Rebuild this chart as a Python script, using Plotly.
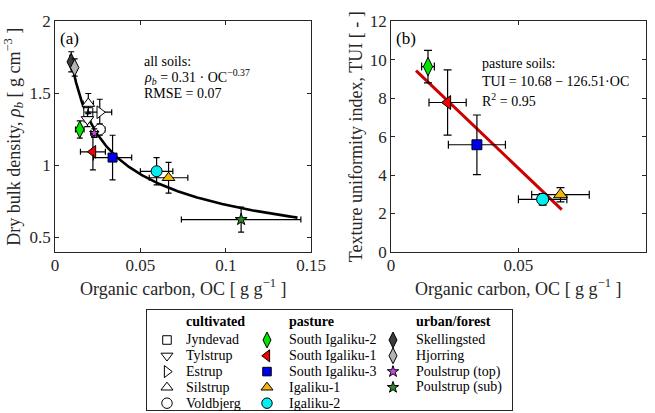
import numpy as np
import plotly.graph_objects as go

# ---------------- data ----------------
cultivated = ["Jyndevad", "Tylstrup", "Estrup", "Silstrup", "Voldbjerg"]
pasture = ["South Igaliku-2", "South Igaliku-1", "South Igaliku-3", "Igaliku-1", "Igaliku-2"]
urban_forest = ["Skellingsted", "Hjorring", "Poulstrup (top)", "Poulstrup (sub)"]
sites = cultivated + pasture + urban_forest

# organic carbon [g/g] and its spread
oc = [0.0195, 0.0190, 0.0262, 0.0195, 0.0262,
      0.0145, 0.0222, 0.0337, 0.0665, 0.0595,
      0.0095, 0.0115, 0.0230, 0.1090]
oc_err = [0.0020, 0.0020, 0.0070, 0.0030, 0.0030,
          0.0025, 0.0073, 0.0112, 0.0113, 0.0095,
          0.0010, 0.0012, 0.0020, 0.0350]
# dry bulk density [g/cm3] and its spread
rho = [1.37, 1.32, 1.37, 1.43, 1.25,
       1.25, 1.095, 1.055, 0.915, 0.96,
       1.72, 1.68, 1.225, 0.625]
rho_err = [0.03, 0.05, 0.09, 0.07, 0.04,
           0.06, 0.125, 0.155, 0.107, 0.095,
           0.07, 0.06, 0.03, 0.087]

# texture uniformity index for the pasture soils
tui = [9.65, 7.78, 5.58, 2.98, 2.74]
tui_err = [0.85, 1.70, 1.55, 0.37, 0.30]

# fitted relations
rho_coef, rho_exp = 0.31, -0.37
tui_icpt, tui_slope = 10.68, -126.51

# ---------------- styles ----------------
symbols = {
    "Jyndevad": "square", "Tylstrup": "triangle-down", "Estrup": "triangle-right",
    "Silstrup": "triangle-up", "Voldbjerg": "circle",
    "South Igaliku-2": "diamond-tall", "South Igaliku-1": "triangle-left",
    "South Igaliku-3": "square", "Igaliku-1": "triangle-up", "Igaliku-2": "circle",
    "Skellingsted": "diamond-tall", "Hjorring": "diamond-tall",
    "Poulstrup (top)": "star", "Poulstrup (sub)": "star",
}
colors = {
    "Jyndevad": "white", "Tylstrup": "white", "Estrup": "white",
    "Silstrup": "white", "Voldbjerg": "white",
    "South Igaliku-2": "#00e600", "South Igaliku-1": "#f00000",
    "South Igaliku-3": "#0000f0", "Igaliku-1": "#f2b705", "Igaliku-2": "#00f0f0",
    "Skellingsted": "#3c3c3c", "Hjorring": "#b4b4b4",
    "Poulstrup (top)": "#c84be6", "Poulstrup (sub)": "#2b8a2b",
}
sizes = {"square": 9, "triangle-down": 11, "triangle-right": 11, "triangle-up": 11,
         "triangle-left": 11, "circle": 11, "diamond-tall": 12, "star": 9}

FONT = "Liberation Serif, DejaVu Serif, serif"
INK = "#262626"

fig = go.Figure()


def marker(name, scale=1.0):
    sym = symbols[name]
    return dict(symbol=sym, size=sizes[sym] * scale, color=colors[name],
                line=dict(color="black", width=1))


def err(vals, width=3):
    return dict(type="data", array=vals, visible=True, color="black",
                thickness=1.2, width=width)


# ---- panel (a): bulk density vs organic carbon ----
oc_curve = np.linspace(0.009, 0.142, 200)
fig.add_trace(go.Scatter(x=oc_curve, y=rho_coef * oc_curve ** rho_exp, mode="lines",
                         line=dict(color="black", width=2.6), xaxis="x", yaxis="y",
                         showlegend=False, hoverinfo="skip"))
for i, name in enumerate(sites):
    fig.add_trace(go.Scatter(
        x=[oc[i]], y=[rho[i]], mode="markers", name=name, xaxis="x", yaxis="y",
        marker=marker(name, 0.8 if name == "Poulstrup (top)" else 1.0),
        error_x=err([oc_err[i]]), error_y=err([rho_err[i]]), showlegend=False))

# ---- panel (b): TUI vs organic carbon (pasture soils) ----
oc_line = np.array([0.0098, 0.0670])
fig.add_trace(go.Scatter(x=oc_line, y=tui_icpt + tui_slope * oc_line, mode="lines",
                         line=dict(color="#cc0000", width=3), xaxis="x2", yaxis="y2",
                         showlegend=False, hoverinfo="skip"))
for j, name in enumerate(pasture):
    i = sites.index(name)
    fig.add_trace(go.Scatter(
        x=[oc[i]], y=[tui[j]], mode="markers", name=name, xaxis="x2", yaxis="y2",
        marker=marker(name, 1.1),
        error_x=err([oc_err[i]], 4), error_y=err([tui_err[j]], 4), showlegend=False))

# ---- legend panel built on its own hidden axis ----
groups = [("cultivated", cultivated), ("pasture", pasture), ("urban/forest", urban_forest)]
col_marker_x = [167, 267, 393]
col_text_x = [184, 287, 414]
header_y, row0_y, row_gap = 322, 340, 15.8
annotations = []
for c, (title, names) in enumerate(groups):
    annotations.append(dict(text=f"<b>{title}</b>", x=col_text_x[c], y=header_y,
                            xref="x3", yref="y3", xanchor="left", yanchor="middle",
                            showarrow=False, font=dict(family=FONT, size=14, color="black")))
    ys = [row0_y + k * row_gap for k in range(len(names))]
    for k, name in enumerate(names):
        fig.add_trace(go.Scatter(x=[col_marker_x[c]], y=[ys[k]], mode="markers",
                                 marker=marker(name, 0.95), xaxis="x3", yaxis="y3",
                                 showlegend=False, hoverinfo="skip"))
        annotations.append(dict(text=name, x=col_text_x[c], y=ys[k], xref="x3", yref="y3",
                                xanchor="left", yanchor="middle", showarrow=False,
                                font=dict(family=FONT, size=14, color="black")))

# ---- panel labels, fit statements and x-axis titles ----
txt = dict(family=FONT, size=14, color="black")
xtitle_text = "Organic carbon, OC [ g g<sup>−1</sup> ]"
xtitle_font = dict(family=FONT, size=18, color=INK)
dom_a, dom_b = [0.084, 0.475], [0.597, 0.986]
annotations += [
    dict(text="(a)", x=0.002, y=1.885, xref="x", yref="y", xanchor="left",
         showarrow=False, font=dict(family=FONT, size=17, color="black")),
    dict(text="all soils:", x=0.051, y=1.72, xref="x", yref="y", xanchor="left",
         showarrow=False, font=txt),
    dict(text="<i>ρ<sub>b</sub></i> = 0.31 · OC<sup>−0.37</sup>", x=0.051, y=1.615,
         xref="x", yref="y", xanchor="left", showarrow=False, font=txt),
    dict(text="RMSE = 0.07", x=0.051, y=1.50, xref="x", yref="y", xanchor="left",
         showarrow=False, font=txt),
    dict(text="(b)", x=0.001, y=11.1, xref="x2", yref="y2", xanchor="left",
         showarrow=False, font=dict(family=FONT, size=17, color="black")),
    dict(text="pasture soils:", x=0.035, y=9.8, xref="x2", yref="y2", xanchor="left",
         showarrow=False, font=txt),
    dict(text="TUI = 10.68 − 126.51·OC", x=0.035, y=8.85, xref="x2", yref="y2",
         xanchor="left", showarrow=False, font=txt),
    dict(text="R<sup>2</sup> = 0.95", x=0.035, y=7.9, xref="x2", yref="y2",
         xanchor="left", showarrow=False, font=txt),
    dict(text=xtitle_text, x=sum(dom_a) / 2, y=0.305, xref="paper", yref="paper",
         xanchor="center", yanchor="middle", showarrow=False, font=xtitle_font),
    dict(text=xtitle_text, x=sum(dom_b) / 2, y=0.305, xref="paper", yref="paper",
         xanchor="center", yanchor="middle", showarrow=False, font=xtitle_font),
]

axis_common = dict(showgrid=False, zeroline=False, showline=True, mirror="ticks",
                   linecolor=INK, linewidth=0.8, ticks="inside", ticklen=4,
                   tickcolor=INK, tickfont=dict(family=FONT, size=17, color=INK),
                   automargin=False)
ytitle_font = dict(family=FONT, size=18, color=INK)

fig.update_layout(
    width=655, height=413, margin=dict(l=0, r=0, t=0, b=0),
    paper_bgcolor="white", plot_bgcolor="white",
    font=dict(family=FONT),
    xaxis=dict(domain=dom_a, range=[0, 0.15], tickvals=[0, 0.05, 0.1, 0.15],
               ticktext=["0", "0.05", "0.1", "0.15"], anchor="y",
               ticklabelstandoff=-2, **axis_common),
    yaxis=dict(domain=[0.390, 0.948], range=[0.4, 2], tickvals=[0.5, 1, 1.5, 2],
               ticktext=["0.5", "1", "1.5", "2"], anchor="x",
               title=dict(text="Dry bulk density, <i>ρ<sub>b</sub></i> [ g cm<sup>−3</sup> ]",
                          font=ytitle_font, standoff=4),
               **axis_common),
    xaxis2=dict(domain=dom_b, range=[0, 0.1], tickvals=[0, 0.05, 0.1],
                ticktext=["0", "0.05", "0.1"], anchor="y2",
                ticklabelstandoff=-2, **axis_common),
    yaxis2=dict(domain=[0.390, 0.948], range=[0, 12], tickvals=list(range(0, 13, 2)),
                anchor="x2",
                title=dict(text="Texture uniformity index, TUI [ - ]",
                           font=ytitle_font, standoff=2),
                **axis_common),
    xaxis3=dict(domain=[0.2244, 0.7817], range=[147, 512], anchor="y3", showgrid=False,
                zeroline=False, showticklabels=False, ticks="", showline=True, mirror=True,
                linecolor=INK, linewidth=1),
    yaxis3=dict(domain=[0.0073, 0.2494], range=[410, 310], anchor="x3", showgrid=False,
                zeroline=False, showticklabels=False, ticks="", showline=True, mirror=True,
                linecolor=INK, linewidth=1),
    annotations=annotations,
)

fig.write_html("out.html")
